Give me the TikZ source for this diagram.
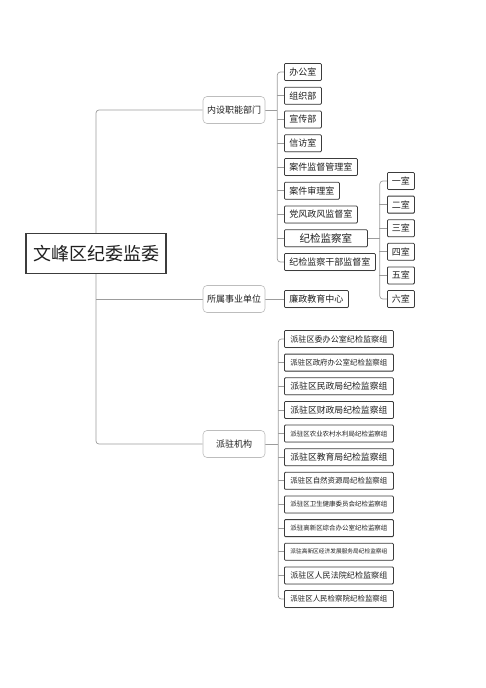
\documentclass[tikz,border=0pt]{standalone}
\usepackage{fontspec}
\usepackage{graphicx}
\setmainfont{Noto Sans CJK SC}
\usepackage{tikz}
\usetikzlibrary{positioning, calc, backgrounds, shadows}
\definecolor{wfInk}{HTML}{1F1F1F}
\definecolor{wfEdge}{HTML}{3C3C3C}
\definecolor{wfSoft}{HTML}{BDBDBD}
\definecolor{wfLine}{HTML}{9C9C9C}
\newcommand{\fitw}[1]{\resizebox{97pt}{!}{\fontsize{9}{9}\selectfont #1}}
\tikzset{
  rootcard/.style={
    rectangle, draw=wfEdge, line width=1.1pt,
    fill=white, inner sep=0pt,
    minimum width=140pt, minimum height=40pt,
    text=wfInk, font=\fontsize{18}{18}\selectfont
  },
  deptcard/.style={
    rectangle, rounded corners=4pt,
    draw=wfSoft, line width=0.6pt,
    fill=white, inner sep=3pt,
    minimum width=62pt, minimum height=27pt,
    text=wfInk, font=\fontsize{9}{9}\selectfont
  },
  office/.style={
    rectangle, rounded corners=1pt,
    draw=wfEdge, line width=0.8pt,
    fill=white, inner xsep=5pt, inner ysep=2pt,
    minimum height=17pt, anchor=west,
    text=wfInk, font=\fontsize{9}{9}\selectfont,
    drop shadow={shadow xshift=0.5pt, shadow yshift=-0.5pt, opacity=0.35}
  },
  widecard/.style={minimum width=83pt, font=\fontsize{10.5}{10.5}\selectfont},
  room/.style={office, minimum width=27pt, inner xsep=3.5pt},
  postcard/.style={office, minimum width=109pt, inner xsep=6pt},
  link/.style={wfLine, line width=0.7pt}
}

\begin{document}
\begin{tikzpicture}[x=1pt, y=-1pt]
  \useasboundingbox (0,0) rectangle (486,688);
  \node[rootcard] (root) at (96,253.5) {文峰区纪委监委};
  \node[deptcard] (dept) at (234,110) {内设职能部门};
  \node[deptcard] (unit) at (234,299) {所属事业单位};
  \node[deptcard] (post) at (234,444) {派驻机构};
  \foreach \lbl/\sty [count=\i] in {办公室/, 组织部/, 宣传部/, 信访室/, 案件监督管理室/, 案件审理室/, 党风政风监督室/, 纪检监察室/widecard, 纪检监察干部监督室/}
    \node[office, \sty] (o\i) at (284, {72+23.75*(\i-1)}) {\lbl};
  \foreach \lbl [count=\i] in {一室, 二室, 三室, 四室, 五室, 六室}
    \node[room] (r\i) at (387, {181+23.6*(\i-1)}) {\lbl};
  \node[office] (edu) at (284,299) {廉政教育中心};
  \foreach \lbl [count=\i] in {派驻区委办公室纪检监察组, 派驻区政府办公室纪检监察组, 派驻区民政局纪检监察组, 派驻区财政局纪检监察组, 派驻区农业农村水利局纪检监察组, 派驻区教育局纪检监察组, 派驻区自然资源局纪检监察组, 派驻区卫生健康委员会纪检监察组, 派驻高新区综合办公室纪检监察组, 派驻高新区经济发展服务局纪检监察组, 派驻区人民法院纪检监察组, 派驻区人民检察院纪检监察组}
    \node[postcard] (p\i) at (284, {339+23.64*(\i-1)}) {\fitw{\lbl}};
  \begin{scope}[on background layer]
    \draw[link, rounded corners=3pt] (dept.west) -| (root.center) |- (post.west);
    \draw[link] (unit.west) -- (unit.west -| root.center);
    \draw[link] (dept.east) -- ++(12,0);
    \draw[link, rounded corners=3pt] (o1.west) -| ($(dept.east)+(12,0)$) |- (o9.west);
    \foreach \i in {2,...,8}
      \draw[link] (o\i.west) -- ++(-7,0);
    \draw[link] (o8.east) -- ++(12,0);
    \draw[link, rounded corners=3pt] (r1.west) -| ($(o8.east)+(12,0)$) |- (r6.west);
    \foreach \i in {2,...,5}
      \draw[link] (r\i.west) -- ++(-8,0);
    \draw[link] (unit.east) -- (edu.west);
    \draw[link] (post.east) -- ++(13,0);
    \draw[link, rounded corners=3pt] (p1.west) -| ($(post.east)+(13,0)$) |- (p12.west);
    \foreach \i in {2,...,11}
      \draw[link] (p\i.west) -- ++(-6,0);
  \end{scope}
\end{tikzpicture}
\end{document}
